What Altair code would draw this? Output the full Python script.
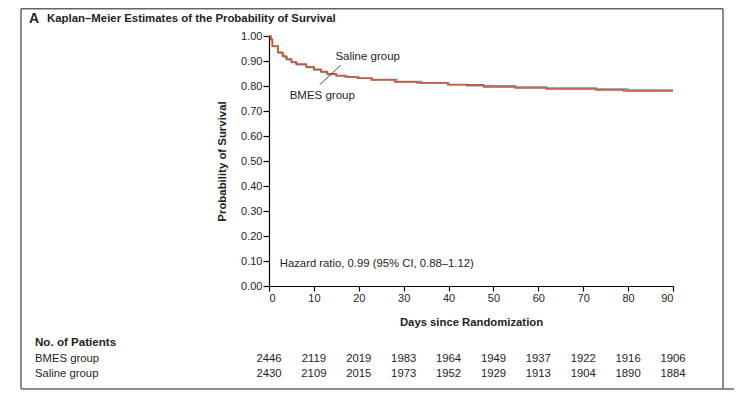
import altair as alt
import pandas as pd

# ---- data ----
saline_days = [0, 0.4, 0.75, 2, 3, 3.8, 5, 6, 8.3, 10, 11.6, 13, 15, 17, 19.7, 22.8, 28, 33, 39.8, 47.8, 54.9, 61.8, 72.9, 79, 90]
saline_surv = [1.0, 0.987, 0.96, 0.935, 0.92, 0.908, 0.897, 0.888, 0.877, 0.867, 0.858, 0.849, 0.842, 0.836, 0.831, 0.824, 0.816, 0.812, 0.805, 0.796, 0.792, 0.788, 0.784, 0.780, 0.780]
bmes_days = [0, 0.4, 0.75, 2, 3.2, 4, 5, 6.2, 8.3, 10, 11.6, 13, 15, 17.5, 20, 23, 28.5, 34, 40, 44, 54.9, 61.8, 72.9, 79.9, 90]
bmes_surv = [1.0, 0.985, 0.958, 0.932, 0.917, 0.905, 0.894, 0.885, 0.874, 0.864, 0.855, 0.846, 0.840, 0.836, 0.831, 0.826, 0.818, 0.813, 0.806, 0.801, 0.796, 0.792, 0.788, 0.784, 0.784]

risk_days = [0, 10, 20, 30, 40, 50, 60, 70, 80, 90]
bmes_risk = [2446, 2119, 2019, 1983, 1964, 1949, 1937, 1922, 1916, 1906]
saline_risk = [2430, 2109, 2015, 1973, 1952, 1929, 1913, 1904, 1890, 1884]

y_ticks = [0.0, 0.1, 0.2, 0.3, 0.4, 0.5, 0.6, 0.7, 0.8, 0.9, 1.0]

RED = "#d4502c"
BLUE = "#6497ad"
FONT = "Liberation Sans, Arial, sans-serif"
TXT = "#231f20"

curves = pd.concat([
    pd.DataFrame({"day": bmes_days, "surv": bmes_surv, "group": "BMES group", "order": 0}),
    pd.DataFrame({"day": saline_days, "surv": saline_surv, "group": "Saline group", "order": 1}),
])

W, H = 404, 250

xscale = alt.Scale(domain=[0, 90], nice=False)
yscale = alt.Scale(domain=[0, 1], nice=False)

xaxis = alt.Axis(values=risk_days, format="d", title="Days since Randomization",
                 titleY=36, titleBaseline="middle", titleFontWeight="bold",
                 titleFontSize=11.3, titleFont=FONT, titleColor=TXT,
                 tickSize=5, labelPadding=1, labelFontSize=11, labelFont=FONT,
                 labelColor=TXT, domainColor="black", tickColor="black",
                 labelOverlap=False, grid=False, domainWidth=1.2, tickWidth=1.2)
yaxis = alt.Axis(values=y_ticks, format=".2f",
                 title="Probability of Survival", titleX=-47, titleY=125,
                 titleAngle=270, titleAlign="center", titleBaseline="middle",
                 titleFontWeight="bold", titleFontSize=11.4, titleFont=FONT,
                 titleColor=TXT, tickSize=6, labelPadding=1, labelFontSize=11,
                 labelFont=FONT, labelColor=TXT, domainColor="black",
                 labelOverlap=False, tickColor="black", grid=False,
                 domainWidth=1.2, tickWidth=1.2)


def X(field):
    return alt.X(field, scale=xscale, axis=xaxis)


def Y(field):
    return alt.Y(field, scale=yscale, axis=yaxis)


lines = alt.Chart(curves).mark_line(interpolate="step-after", strokeWidth=1.6).encode(
    x=X("day:Q"),
    y=Y("surv:Q"),
    color=alt.Color("group:N", scale=alt.Scale(domain=["BMES group", "Saline group"], range=[BLUE, RED]), legend=None),
    order=alt.Order("order:Q"),
    detail="group:N",
)

# curve labels and leader line
lab_df = pd.DataFrame({"day": [14.8, 4.6], "surv": [0.916, 0.762], "label": ["Saline group", "BMES group"]})
labels = alt.Chart(lab_df).mark_text(align="left", baseline="middle", font=FONT, fontSize=11.5, color=TXT).encode(
    x=X("day:Q"), y=Y("surv:Q"), text="label:N")

lead_df = pd.DataFrame({"d1": [16.0], "s1": [0.884], "d2": [11.3], "s2": [0.805]})
leader = alt.Chart(lead_df).mark_rule(color="#333", strokeWidth=0.9).encode(
    x=X("d1:Q"), y=Y("s1:Q"), x2="d2:Q", y2="s2:Q")

hr_df = pd.DataFrame({"day": [2.4], "surv": [0.09], "label": ["Hazard ratio, 0.99 (95% CI, 0.88\u20131.12)"]})
hr = alt.Chart(hr_df).mark_text(align="left", baseline="middle", font=FONT, fontSize=11.3, color=TXT).encode(
    x=X("day:Q"), y=Y("surv:Q"), text="label:N")

# at-risk table
bmes_df = pd.DataFrame({"day": risk_days, "n": bmes_risk})
saline_df = pd.DataFrame({"day": risk_days, "n": saline_risk})
risk_b = alt.Chart(bmes_df).mark_text(align="center", baseline="middle", font=FONT, fontSize=11.3, color=TXT).encode(
    x=X("day:Q"), y=alt.value(323), text="n:Q")
risk_s = alt.Chart(saline_df).mark_text(align="center", baseline="middle", font=FONT, fontSize=11.3, color=TXT).encode(
    x=X("day:Q"), y=alt.value(338), text="n:Q")

row_bold = alt.Chart(pd.DataFrame({"label": ["No. of Patients"]})).mark_text(
    align="left", baseline="middle", font=FONT, fontSize=11.6, fontWeight="bold", color=TXT).encode(
    x=alt.value(-234), y=alt.value(307), text="label:N")
row_b = alt.Chart(pd.DataFrame({"label": ["BMES group"]})).mark_text(
    align="left", baseline="middle", font=FONT, fontSize=11.3, color=TXT).encode(
    x=alt.value(-234), y=alt.value(323), text="label:N")
row_s = alt.Chart(pd.DataFrame({"label": ["Saline group"]})).mark_text(
    align="left", baseline="middle", font=FONT, fontSize=11.3, color=TXT).encode(
    x=alt.value(-234), y=alt.value(338), text="label:N")

# panel title
title_a = alt.Chart(pd.DataFrame({"t": ["A"]})).mark_text(align="left", baseline="middle", font=FONT, fontSize=14, fontWeight="bold", color=TXT).encode(
    x=alt.value(-240), y=alt.value(-17), text="t:N")
title_t = alt.Chart(pd.DataFrame({"t": ["Kaplan\u2013Meier Estimates of the Probability of Survival"]})).mark_text(
    align="left", baseline="middle", font=FONT, fontSize=11.4, fontWeight="bold", color=TXT).encode(
    x=alt.value(-222), y=alt.value(-17), text="t:N")

# frame
FR = "#666666"
one = pd.DataFrame({"a": [0]})
frame_left = alt.Chart(one).mark_rule(color=FR, strokeWidth=1.5).encode(
    x=alt.value(-248), y=alt.value(-27.3), y2=alt.value(353))
frame_right = alt.Chart(one).mark_rule(color=FR, strokeWidth=1.5).encode(
    x=alt.value(454), y=alt.value(-27.3), y2=alt.value(353))
frame_top = alt.Chart(one).mark_rule(color=FR, strokeWidth=1.5).encode(
    x=alt.value(-248), x2=alt.value(454), y=alt.value(-27.3))
frame_bot = alt.Chart(one).mark_rule(color=FR, strokeWidth=1.5).encode(
    x=alt.value(-248), x2=alt.value(465), y=alt.value(353))

chart = alt.layer(
    lines, frame_left, frame_right, frame_top, frame_bot,
    leader, labels, hr, risk_b, risk_s, row_bold, row_b, row_s, title_a, title_t,
).properties(
    width=W, height=H,
    background="white",
    autosize=alt.AutoSizeParams(type="none"),
    padding={"left": 261, "top": 28, "right": 61, "bottom": 104},
).configure_view(stroke=None)

chart.save("out.html", embed_options={"renderer": "svg", "actions": False})
